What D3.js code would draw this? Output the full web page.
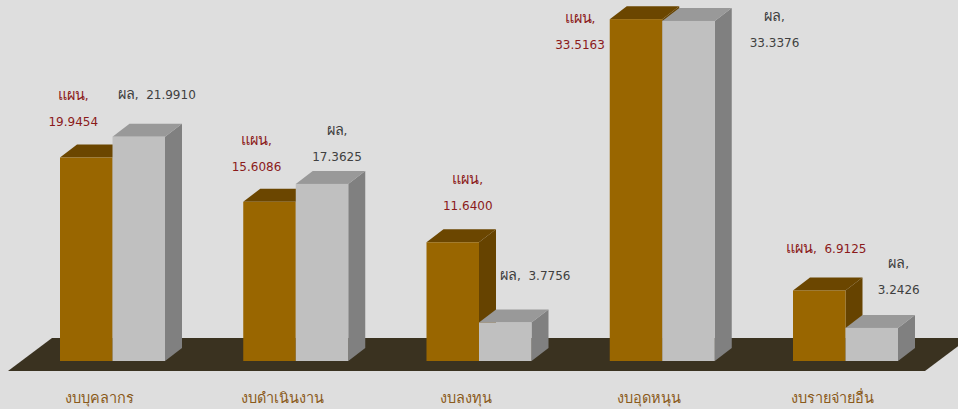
<!DOCTYPE html>
<html>
<head>
<meta charset="utf-8">
<script src="https://cdn.jsdelivr.net/npm/d3@7"></script>
<style>
	body { margin: 0; background: #dedede; }
	svg { display: block; }
	text { font-family: Tahoma, "DejaVu Sans", sans-serif; font-size: 12px; }
	.thai { font-size: 14.5px; }
</style>
</head>
<body>
<div id="chart"></div>
<script>
// data
const categories = ["งบบุคลากร", "งบดำเนินงาน", "งบลงทุน", "งบอุดหนุน", "งบรายจ่ายอื่น"];
const seriesNames = ["แผน", "ผล"];
const planValues = [19.9454, 15.6086, 11.6400, 33.5163, 6.9125];
const actualValues = [21.9910, 17.3625, 3.7756, 33.3376, 3.2426];

// label placement relative to the top of each bar: [dx, dy of last line, split into two lines]
const planLabelPos = [[-13, -36, true], [-13, -35, true], [15, -36, true], [-56, 26, true], [7, -42, false]];
const actualLabelPos = [[18, -42, false], [15, -27, true], [30, -47, false], [86, 22, true], [27, -38, true]];

const width = 958, height = 409;
const depth = {x: 17, y: -13};

const colors = {
	plan: {front: "#996600", top: "#6b4600", side: "#664300", text: "#8b1a1a"},
	actual: {front: "#c0c0c0", top: "#999999", side: "#808080", text: "#404040"}
};

const svg = d3.select("#chart").append("svg")
	.attr("width", width)
	.attr("height", height);

// scales
const x0 = d3.scaleBand()
	.domain(categories)
	.range([60, 898])
	.paddingInner(0.427)
	.paddingOuter(0);
const x1 = d3.scaleBand()
	.domain(seriesNames)
	.range([0, x0.bandwidth()]);
const y = d3.scaleLinear()
	.domain([0, 35])
	.range([361, 4]);

// floor
const fy0 = y(0) + 10, fy1 = y(0) - 23;
svg.append("path")
	.attr("d", `M8,${fy0} L925,${fy0} L${925 + 44},${fy1} L52,${fy1} Z`)
	.attr("fill", "#3a3220");

// build bar records
const bars = [];
categories.forEach((c, i) => {
	bars.push({cat: c, s: seriesNames[0], v: planValues[i], col: colors.plan, pos: planLabelPos[i]});
	bars.push({cat: c, s: seriesNames[1], v: actualValues[i], col: colors.actual, pos: actualLabelPos[i]});
});

const g = svg.selectAll(".bar")
	.data(bars)
	.join("g")
	.attr("class", "bar");

g.each(function (d) {
	const el = d3.select(this);
	const xl = x0(d.cat) + x1(d.s), xr = xl + x1.bandwidth();
	const yt = y(d.v), yb = y(0);
	// side
	el.append("path")
		.attr("d", `M${xr},${yb} L${xr + depth.x},${yb + depth.y} L${xr + depth.x},${yt + depth.y} L${xr},${yt} Z`)
		.attr("fill", d.col.side);
	// top
	el.append("path")
		.attr("d", `M${xl},${yt} L${xl + depth.x},${yt + depth.y} L${xr + depth.x},${yt + depth.y} L${xr},${yt} Z`)
		.attr("fill", d.col.top);
	// front
	el.append("rect")
		.attr("x", xl)
		.attr("y", yt)
		.attr("width", x1.bandwidth())
		.attr("height", yb - yt)
		.attr("fill", d.col.front);
});

// data labels
bars.forEach(d => {
	const cx = x0(d.cat) + x1(d.s) + x1.bandwidth() / 2 + d.pos[0];
	const cy = y(d.v) + d.pos[1];
	const val = d.v.toFixed(4);
	const t = svg.append("text")
		.attr("text-anchor", "middle")
		.attr("fill", d.col.text);
	if (d.pos[2]) {
		t.append("tspan").attr("class", "thai").attr("x", cx).attr("y", cy - 27).attr("dy", "0.35em").text(d.s);
		t.append("tspan").text(",");
		t.append("tspan").attr("x", cx).attr("y", cy).attr("dy", "0.35em").text(val);
	} else {
		t.attr("x", cx).attr("y", cy).attr("dy", "0.35em");
		t.append("tspan").attr("class", "thai").text(d.s);
		t.append("tspan").text(",\u00a0\u00a0" + val);
	}
});

// category labels along the front edge of the floor
svg.selectAll(".cat")
	.data(categories)
	.join("text")
	.attr("class", "cat thai")
	.attr("x", d => x0(d) + x0.bandwidth() / 2 - 13)
	.attr("y", 398)
	.attr("dy", "0.35em")
	.attr("text-anchor", "middle")
	.attr("fill", "#8a5a1a")
	.text(d => d);
</script>
</body>
</html>
